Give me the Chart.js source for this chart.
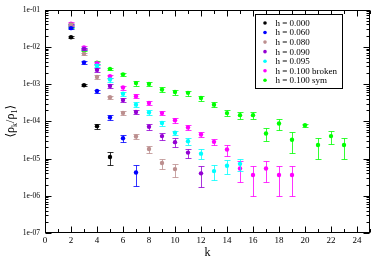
<!DOCTYPE html>
<html>
<head>
<meta charset="utf-8">
<script src="https://cdn.jsdelivr.net/npm/chart.js@4.4.0/dist/chart.umd.min.js"></script>
<style>
html, body { margin: 0; padding: 0; background: #fff; }
</style>
</head>
<body>
<canvas id="chart" width="374" height="257"></canvas>
<script>
// k values shared by every series (a series simply stops earlier when shorter)
const kValues = [2, 3, 4, 5, 6, 7, 8, 9, 10, 11, 12, 13, 14, 15, 16, 17, 18, 19, 20, 21, 22, 23];

const xTickValues = [0, 2, 4, 6, 8, 10, 12, 14, 16, 18, 20, 22, 24];
const yTickValues = [1e-7, 1e-6, 1e-5, 1e-4, 1e-3, 1e-2, 1e-1];
const yTickLabels = ['1e-07', '1e-06', '1e-05', '1e-04', '1e-03', '1e-02', '1e-01'];

const seriesLabels = ['h = 0.000', 'h = 0.060', 'h = 0.080', 'h = 0.090', 'h = 0.095', 'h = 0.100 broken', 'h = 0.100 sym'];

// <rho_k/rho_1> and its error, starting at k = 2
const h000 = [0.018, 0.00093, 7.4e-5, 1.1e-5];
const h000Err = [0.001, 6e-5, 1.2e-5, 4.3e-6];

const h060 = [0.0317, 0.0038, 0.00065, 1.27e-4, 3.5e-5, 4.2e-6];
const h060Err = [0.002, 2.5e-4, 6e-5, 1.9e-5, 7e-6, 2.4e-6];

const h080 = [0.040, 0.0065, 0.00155, 4.4e-4, 1.68e-4, 3.9e-5, 1.8e-5, 7.6e-6, 5.2e-6];
const h080Err = [0.003, 5e-4, 1.5e-4, 5e-5, 2.2e-5, 6e-6, 4e-6, 2.3e-6, 2e-6];

const h090 = [0.039, 0.0088, 0.0024, 8.9e-4, 3.7e-4, 1.78e-4, 7.1e-5, 4.0e-5, 2.75e-5, 1.44e-5, 4.0e-6];
const h090Err = [0.003, 7e-4, 2.5e-4, 1e-4, 4.5e-5, 2.5e-5, 1.4e-5, 8e-6, 7e-6, 4e-6, 2.3e-6];

const h095 = [0.037, 0.0087, 0.0031, 0.00132, 5.5e-4, 2.8e-4, 1.73e-4, 9.0e-5, 4.9e-5, 2.9e-5, 1.35e-5, 4.6e-6, 6.4e-6, 7.2e-6];
const h095Err = [0.003, 7e-4, 3e-4, 1.5e-4, 7e-5, 4e-5, 2.5e-5, 1.4e-5, 7e-6, 6e-6, 4e-6, 2e-6, 2.5e-6, 2.5e-6];

const h100b = [0.042, 0.0096, 0.0036, 0.00162, 8.1e-4, 4.7e-4, 3.1e-4, 1.66e-4, 1.07e-4, 6.8e-5, 4.4e-5, 2.8e-5, 1.74e-5, 5.4e-6, 3.6e-6, 5.4e-6, 3.6e-6, 3.6e-6];
const h100bErr = [0.003, 8e-4, 3e-4, 1.8e-4, 1e-4, 6e-5, 4e-5, 2.3e-5, 1.5e-5, 1e-5, 6e-6, 5e-6, 5.5e-6, 3e-6, 2.6e-6, 3e-6, 2.6e-6, 2.6e-6];

const h100s = [0.0358, 0.0082, 0.00376, 0.00255, 0.00182, 0.00106, 0.00101, 7.1e-4, 6.1e-4, 5.8e-4, 4.2e-4, 2.8e-4, 1.66e-4, 1.46e-4, 1.46e-4, 4.7e-5, 8.7e-5, 3.2e-5, 7.85e-5, 2.3e-5, 4.0e-5, 2.3e-5];
const h100sErr = [0.003, 7e-4, 3e-4, 2e-4, 1.5e-4, 1.5e-4, 1.5e-4, 1.1e-4, 9e-5, 9e-5, 6e-5, 4.5e-5, 3e-5, 2.8e-5, 2.8e-5, 1.8e-5, 3e-5, 1.8e-5, 8e-6, 1.3e-5, 1.5e-5, 1.3e-5];

const seriesValues = [h000, h060, h080, h090, h095, h100b, h100s];
const seriesErrors = [h000Err, h060Err, h080Err, h090Err, h095Err, h100bErr, h100sErr];
const seriesColors = ['#000000', '#0000ff', '#bc8f8f', '#9400d3', '#00ffff', '#ff00ff', '#00ff00'];

const serif = "'Liberation Serif', 'DejaVu Serif', serif";

const datasets = seriesValues.map(function(vals, s) {
  return {
    label: seriesLabels[s],
    data: vals.map((v, i) => ({ x: kValues[i], y: v })),
    errors: seriesErrors[s],
    backgroundColor: seriesColors[s],
    borderColor: seriesColors[s],
    pointRadius: 2.2,
    pointBorderWidth: 0,
    showLine: false
  };
});

// error bars, drawn under the symbols of each set
const errorBars = {
  id: 'errorBars',
  beforeDatasetDraw(chart, args) {
    const ds = chart.data.datasets[args.index];
    const yScale = chart.scales.y;
    const ctx = chart.ctx;
    ctx.save();
    ctx.strokeStyle = ds.borderColor;
    ctx.globalAlpha = 0.8;
    ctx.lineWidth = 1;
    args.meta.data.forEach(function(pt, i) {
      const v = ds.data[i].y, e = ds.errors[i];
      const x = Math.round(pt.x) + 0.5;
      const yTop = Math.round(yScale.getPixelForValue(v + e)) + 0.5;
      const yBot = Math.round(yScale.getPixelForValue(Math.max(v - e, 1e-9))) + 0.5;
      ctx.beginPath();
      ctx.moveTo(x, yTop); ctx.lineTo(x, yBot);
      ctx.moveTo(x - 3, yTop); ctx.lineTo(x + 3, yTop);
      ctx.moveTo(x - 3, yBot); ctx.lineTo(x + 3, yBot);
      ctx.stroke();
    });
    ctx.restore();
  }
};

// frame, inward ticks, legend box and axis titles
const frame = {
  id: 'frame',
  afterDraw(chart) {
    const ctx = chart.ctx;
    const a = chart.chartArea;
    const xs = chart.scales.x, ys = chart.scales.y;
    ctx.save();
    ctx.strokeStyle = '#000';
    ctx.lineWidth = 1;
    const L = Math.round(a.left) + 0.5, R = Math.round(a.right) - 0.5;
    const T = Math.round(a.top) + 0.5, B = Math.round(a.bottom) - 0.5;
    ctx.strokeRect(L, T, R - L, B - T);

    ctx.beginPath();
    for (let k = 0; k <= 25; k++) {
      const x = Math.round(xs.getPixelForValue(k)) + 0.5;
      const len = k % 2 === 0 ? 6 : 3.5;
      ctx.moveTo(x, B); ctx.lineTo(x, B - len);
      ctx.moveTo(x, T); ctx.lineTo(x, T + len);
    }
    for (let d = -7; d <= -1; d++) {
      for (let m = 1; m <= 9; m++) {
        const v = m * Math.pow(10, d);
        if (v > 0.1 * 1.0001) break;
        const y = Math.round(ys.getPixelForValue(v)) + 0.5;
        const len = m === 1 ? 6 : 3;
        ctx.moveTo(L, y); ctx.lineTo(L + len, y);
        ctx.moveTo(R, y); ctx.lineTo(R - len, y);
      }
    }
    ctx.stroke();

    // legend
    const lx = 255.5, ly = 14.5;
    ctx.fillStyle = '#fff';
    ctx.fillRect(lx, ly, 87, 74);
    ctx.strokeRect(lx, ly, 87, 74);
    ctx.font = '9px ' + serif;
    ctx.textBaseline = 'middle';
    chart.data.datasets.forEach(function(ds, i) {
      const y = 23 + i * 9.55;
      ctx.fillStyle = ds.backgroundColor;
      ctx.beginPath();
      ctx.arc(265, y, 1.8, 0, Math.PI * 2);
      ctx.fill();
      ctx.fillStyle = '#000';
      ctx.fillText(ds.label, 275.5, y + 0.5);
    });

    // x title
    ctx.font = '12px ' + serif;
    ctx.textAlign = 'center';
    ctx.textBaseline = 'alphabetic';
    ctx.fillText('k', (a.left + a.right) / 2, 255.5);

    // y title <rho_k/rho_1>
    const parts = [['\u27E8', 12, 0], ['\u03C1', 12, 0], ['k', 8, 3], ['/', 12, 0], ['\u03C1', 12, 0], ['1', 8, 3], ['\u27E9', 12, 0]];
    ctx.textAlign = 'left';
    let total = 0;
    parts.forEach(function(p) { ctx.font = p[1] + 'px ' + serif; total += ctx.measureText(p[0]).width; });
    ctx.translate(14, (a.top + a.bottom) / 2);
    ctx.rotate(-Math.PI / 2);
    let cx = -total / 2;
    parts.forEach(function(p) {
      ctx.font = p[1] + 'px ' + serif;
      ctx.fillText(p[0], cx, p[2]);
      cx += ctx.measureText(p[0]).width;
    });
    ctx.restore();
  }
};

new Chart(document.getElementById('chart'), {
  type: 'scatter',
  data: { datasets: datasets },
  options: {
    responsive: false,
    animation: false,
    layout: { padding: { top: 4, right: 2, left: 0, bottom: 0 } },
    plugins: {
      legend: { display: false },
      tooltip: { enabled: false }
    },
    scales: {
      x: {
        type: 'linear',
        min: 0,
        max: 25,
        grid: { display: false, drawTicks: false, tickLength: 0 },
        border: { display: false },
        afterBuildTicks: function(scale) { scale.ticks = xTickValues.map(v => ({ value: v })); },
        afterFit: function(scale) { scale.height = 24; },
        ticks: { color: '#000', font: { family: serif, size: 9 }, padding: 2, maxRotation: 0, autoSkip: false }
      },
      y: {
        type: 'logarithmic',
        min: 1e-7,
        max: 1e-1,
        grid: { display: false, drawTicks: false, tickLength: 0 },
        border: { display: false },
        afterBuildTicks: function(scale) { scale.ticks = yTickValues.map(v => ({ value: v })); },
        afterFit: function(scale) { scale.width = 45; },
        ticks: {
          color: '#000',
          font: { family: serif, size: 7.6 },
          padding: 5,
          autoSkip: false,
          callback: function(value, index) { return yTickLabels[index]; }
        }
      }
    }
  },
  plugins: [errorBars, frame]
});
</script>
</body>
</html>
